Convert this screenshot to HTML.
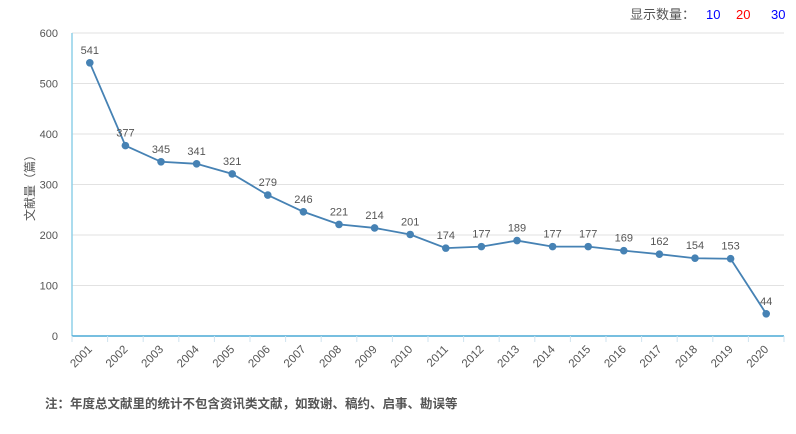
<!DOCTYPE html>
<html><head><meta charset="utf-8"><style>
body{margin:0;background:#fff;width:796px;height:434px;overflow:hidden;font-family:"Liberation Sans","Noto Sans CJK SC",sans-serif}
</style></head><body>
<svg width="796" height="434" style="position:absolute;left:0;top:0">
<g id="hdr">
<text x="630" y="19" font-size="13" fill="#555">显示数量：</text>
<text x="706" y="19" font-size="13" fill="#0000ff">10</text>
<text x="736" y="19" font-size="13" fill="#ff0000">20</text>
<text x="771" y="19" font-size="13" fill="#0000ff">30</text>
</g>
<text x="34" y="185" font-size="12" fill="#555" transform="rotate(-90 34 185)" text-anchor="middle">文献量（篇）</text>
<g id="grid"></g><g id="axes"></g><g id="series"></g>
<text x="45" y="408" font-size="12.5" font-weight="bold" fill="#555">注：年度总文献里的统计不包含资讯类文献，如致谢、稿约、启事、勘误等</text>
</svg>
<script>
const categories=["2001","2002","2003","2004","2005","2006","2007","2008","2009","2010","2011","2012","2013","2014","2015","2016","2017","2018","2019","2020"];
const values=[541,377,345,341,321,279,246,221,214,201,174,177,189,177,177,169,162,154,153,44];
const yTicks=[0,100,200,300,400,500,600];
const L=72,R=784,T=33,B=336,NS="http://www.w3.org/2000/svg";
const bw=(R-L)/categories.length;
const x=i=>L+bw*(i+0.5), y=v=>B-(v/600)*(B-T);
function mk(t,a,p){const e=document.createElementNS(NS,t);for(const k in a)e.setAttribute(k,a[k]);p.appendChild(e);return e;}
const g=document.getElementById('grid'),ax=document.getElementById('axes'),s=document.getElementById('series');
yTicks.forEach(v=>{
 if(v>0){const l=mk('line',{x1:L,x2:R,y1:y(v),y2:y(v),stroke:'#e2e2e2'},g);
 
 }
 const t=mk('text',{x:58,y:y(v)+4,'font-size':11,fill:'#555','text-anchor':'end'},ax);t.textContent=v;
 
 
});
const ya=mk('line',{x1:L,x2:L,y1:T,y2:B,stroke:'#8fd0e8','stroke-width':1.5},ax);


const xa=mk('line',{x1:L,x2:R,y1:B,y2:B,stroke:'#4aaad6','stroke-width':1.5},ax);


for(let i=0;i<=categories.length;i++){const tk=mk('line',{x1:L+bw*i,x2:L+bw*i,y1:B,y2:B+6,stroke:'#cfe3ef'},ax);
 
 }
categories.forEach((c,i)=>{const t=mk('text',{x:x(i)+3,y:B+14,'font-size':11.5,fill:'#555','text-anchor':'end',transform:`rotate(-45 ${x(i)+3} ${B+14})`},ax);t.textContent=c;
 
 });
const line=mk('polyline',{points:values.map((v,i)=>x(i)+','+y(v)).join(' '),fill:'none',stroke:'#4682b4','stroke-width':1.8},s);


values.forEach((v,i)=>{const c=mk('circle',{cx:x(i),cy:y(v),r:3.8,fill:'#4682b4'},s);
 
 
 const t=mk('text',{x:x(i),y:y(v)-9,'font-size':11,fill:'#555','text-anchor':'middle'},s);t.textContent=v;
 
 });
</script>
</body></html>
